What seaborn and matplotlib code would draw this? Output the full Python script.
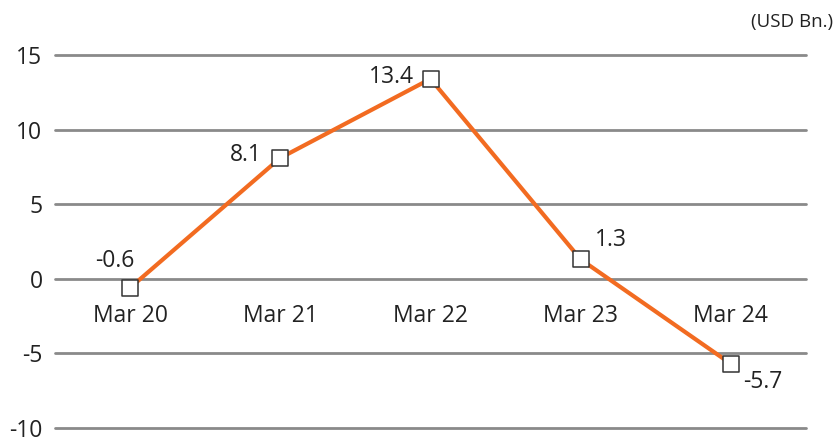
import matplotlib
matplotlib.use("Agg")
import matplotlib.pyplot as plt
import seaborn as sns
import pandas as pd

categories = ["Mar 20", "Mar 21", "Mar 22", "Mar 23", "Mar 24"]
values = [-0.6, 8.1, 13.4, 1.3, -5.7]
label_texts = ["-0.6", "8.1", "13.4", "1.3", "-5.7"]
yticks = [-10, -5, 0, 5, 10, 15]
unit = "(USD Bn.)"

sns.set_theme(style="white")
plt.rcParams['font.family'] = ['Open Sans', 'DejaVu Sans']

df = pd.DataFrame({"x": range(len(categories)), "y": values})

fig = plt.figure(figsize=(8.35, 4.43), dpi=100)
ax = fig.add_axes([55/835, 1 - 428/443, 751/835, 373/443])

for t in yticks:
    ax.axhline(t, color="#8a8a8a", lw=2.0, zorder=1, clip_on=False)

sns.lineplot(data=df, x="x", y="y", ax=ax, color="#F26B21", lw=3.0, zorder=3)
ax.scatter(df["x"], df["y"], marker="s", s=135, facecolor="white",
           edgecolor="#333333", linewidths=1.1, zorder=4, clip_on=False)

ax.set_xlim(-0.5, len(categories) - 0.5)
ax.set_ylim(-10, 15)
ax.set_xticks([])
ax.set_yticks(yticks)
ax.set_yticklabels([str(t) for t in yticks], fontsize=16.5, color="#222222")
ax.tick_params(axis="y", length=0, pad=9)
for s in ax.spines.values():
    s.set_visible(False)
ax.set_xlabel("")
ax.set_ylabel("")

for i, c in enumerate(categories):
    ax.annotate(c, (i, 0), xytext=(0, -27), textcoords="offset points",
                ha="center", va="center", fontsize=16.5, color="#222222")

offsets = [(-11, 19), (-25, 2), (-28, 1.5), (22, 14), (23, -13)]
for i, (v, t) in enumerate(zip(values, label_texts)):
    ax.annotate(t, (i, v), xytext=offsets[i], textcoords="offset points",
                ha="center", va="center", fontsize=16.5, color="#222222")

fig.text(833/835, 1 - 22/443, unit, ha="right", va="center",
         fontsize=13.5, color="#222222")

fig.savefig("out.png", dpi=100)
